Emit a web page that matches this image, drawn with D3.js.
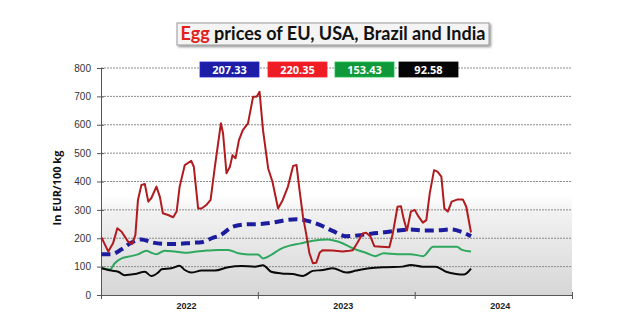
<!DOCTYPE html>
<html>
<head>
<meta charset="utf-8">
<script src="https://cdn.jsdelivr.net/npm/d3@7"></script>
<style>
  body { margin: 0; background: #fff; }
  svg { display: block; }
</style>
</head>
<body>
<svg id="chart" width="642" height="322"></svg>
<script>
// Weekly egg prices, EUR per 100 kg
const euPrices = [
  ["2022-01-02",144],["2022-01-25",144],["2022-02-18",161],["2022-03-12",184],["2022-04-05",196],
  ["2022-04-28",186],["2022-05-29",180],["2022-06-30",180],["2022-07-30",184],["2022-08-23",186],
  ["2022-09-16",200],["2022-10-06",211],["2022-11-04",241],["2022-12-05",249],["2023-01-05",250],
  ["2023-02-04",255],["2023-03-07",264],["2023-04-01",267],["2023-04-24",262],["2023-05-25",247],
  ["2023-06-24",226],["2023-07-26",207],["2023-08-21",210],["2023-09-22",216],["2023-10-23",221],
  ["2023-11-22",227],["2023-12-23",231],["2024-01-24",227],["2024-02-24",228],["2024-03-26",231],
  ["2024-04-18",223],["2024-05-11",207.33]
];
const usaPrices = [
  ["2022-01-02",203],["2022-01-18",153],["2022-01-29",182],["2022-02-08",235],["2022-02-18",223],
  ["2022-03-05",188],["2022-03-14",180],["2022-03-22",211],["2022-03-28",335],["2022-04-05",388],
  ["2022-04-13",391],["2022-04-21",329],["2022-04-28",341],["2022-05-10",382],["2022-05-18",346],
  ["2022-05-25",288],["2022-06-06",282],["2022-06-18",274],["2022-06-26",294],["2022-07-03",382],
  ["2022-07-15",458],["2022-07-30",473],["2022-08-05",452],["2022-08-15",305],["2022-08-23",305],
  ["2022-09-03",317],["2022-09-13",335],["2022-09-23",452],["2022-10-07",605],["2022-10-12",570],
  ["2022-10-20",429],["2022-10-28",452],["2022-11-03",493],["2022-11-10",482],["2022-11-18",546],
  ["2022-11-27",581],["2022-12-09",605],["2022-12-21",699],["2022-12-29",699],["2023-01-05",716],
  ["2023-01-13",581],["2023-01-25",446],["2023-02-04",399],["2023-02-17",305],["2023-02-28",335],
  ["2023-03-12",382],["2023-03-24",455],["2023-04-01",458],["2023-04-08",370],["2023-04-16",276],
  ["2023-04-24",211],["2023-05-01",147],["2023-05-09",112],["2023-05-17",114],["2023-05-25",150],
  ["2023-06-01",158],["2023-06-24",157],["2023-07-17",153],["2023-08-02",156],["2023-08-10",158],
  ["2023-08-21",185],["2023-09-02",217],["2023-09-10",219],["2023-09-20",206],["2023-09-29",172],
  ["2023-10-15",170],["2023-11-03",168],["2023-11-11",217],["2023-11-22",311],["2023-11-30",313],
  ["2023-12-06",270],["2023-12-14",227],["2023-12-23",294],["2024-01-01",300],["2024-01-10",276],
  ["2024-01-20",255],["2024-01-28",264],["2024-02-05",358],["2024-02-15",440],["2024-02-23",435],
  ["2024-03-03",417],["2024-03-10",305],["2024-03-18",294],["2024-03-27",329],["2024-04-10",337],
  ["2024-04-22",337],["2024-04-30",311],["2024-05-11",220.35]
];
const brazilPrices = [
  ["2022-01-02",95],["2022-01-22",90],["2022-02-02",112],["2022-02-18",129],["2022-03-12",137],
  ["2022-03-28",143],["2022-04-17",156],["2022-04-28",149],["2022-05-10",144],["2022-05-29",156],
  ["2022-06-22",153],["2022-07-15",149],["2022-08-07",152],["2022-08-31",156],["2022-10-01",159],
  ["2022-10-24",159],["2022-11-16",147],["2022-12-09",143],["2023-01-01",143],["2023-01-13",129],
  ["2023-02-01",141],["2023-02-21",161],["2023-03-16",174],["2023-04-08",181],["2023-05-09",191],
  ["2023-06-13",196],["2023-07-11",186],["2023-08-11",164],["2023-09-12",147],["2023-10-01",137],
  ["2023-10-21",147],["2023-11-21",144],["2023-12-22",144],["2024-01-21",137],["2024-02-13",170],
  ["2024-03-16",170],["2024-04-08",170],["2024-04-20",159],["2024-05-11",153.43]
];
const indiaPrices = [
  ["2022-01-02",94],["2022-01-25",86],["2022-02-10",82],["2022-02-25",70],["2022-03-21",74],
  ["2022-04-13",82],["2022-04-28",67],["2022-05-14",79],["2022-05-22",91],["2022-06-14",94],
  ["2022-07-03",103],["2022-07-15",88],["2022-07-30",79],["2022-08-23",86],["2022-09-23",86],
  ["2022-10-24",98],["2022-11-24",102],["2022-12-25",100],["2023-01-13",105],["2023-02-01",82],
  ["2023-02-25",76],["2023-03-23",74],["2023-04-16",67],["2023-05-09",85],["2023-06-01",88],
  ["2023-06-24",94],["2023-07-26",79],["2023-08-18",86],["2023-09-18",94],["2023-10-27",98],
  ["2023-12-04",100],["2023-12-23",106],["2024-01-19",100],["2024-02-19",100],["2024-03-14",82],
  ["2024-04-06",74],["2024-04-25",72],["2024-05-11",92.58]
];

const yTicks = [0, 100, 200, 300, 400, 500, 600, 700, 800];
const yearTicks = ["2022-01-01", "2023-01-01", "2024-01-01", "2025-01-01"];
const yearLabels = ["2022", "2023", "2024"];
const titleAccent = "Egg";
const titleRest = " prices of EU, USA, Brazil and India";
const yTitle = "In EUR/100 kg";

const parse = d3.timeParse("%Y-%m-%d");
const toPoints = arr => arr.map(([d, v]) => ({ date: parse(d), value: v }));

const series = [
  { key: "eu",     data: toPoints(euPrices),     color: "#1c1c9e", box: "#1d1da6", width: 4, dash: "9,5", curve: d3.curveMonotoneX },
  { key: "usa",    data: toPoints(usaPrices),    color: "#b01b1f", box: "#ee1c24", width: 2, dash: null,  curve: d3.curveLinear },
  { key: "brazil", data: toPoints(brazilPrices), color: "#2ea85e", box: "#10993a", width: 2, dash: null,  curve: d3.curveMonotoneX },
  { key: "india",  data: toPoints(indiaPrices),  color: "#0a0a0a", box: "#050505", width: 2, dash: null,  curve: d3.curveMonotoneX }
];

const svg = d3.select("#chart");
const plot = { left: 101, right: 572, top: 68, bottom: 295 };

const x = d3.scaleTime()
  .domain([parse(yearTicks[0]), parse(yearTicks[yearTicks.length - 1])])
  .range([plot.left, plot.right]);
const y = d3.scaleLinear().domain([0, 800]).range([plot.bottom, plot.top]);

// Plot background: white fading into light grey at the bottom
const defs = svg.append("defs");
const grad = defs.append("linearGradient").attr("id", "bg").attr("x1", 0).attr("y1", 0).attr("x2", 0).attr("y2", 1);
[["0%", "#ffffff"], ["56%", "#ffffff"], ["64%", "#f1f1f1"], ["100%", "#d6d6d6"]]
  .forEach(([o, c]) => grad.append("stop").attr("offset", o).attr("stop-color", c));

const shadow = defs.append("filter").attr("id", "shadow").attr("x", "-10%").attr("y", "-30%").attr("width", "120%").attr("height", "170%");
shadow.append("feDropShadow").attr("dx", 1.5).attr("dy", 1.5).attr("stdDeviation", 1.2).attr("flood-color", "#000").attr("flood-opacity", 0.45);

svg.append("rect")
  .attr("x", plot.left).attr("y", plot.top)
  .attr("width", plot.right - plot.left).attr("height", plot.bottom - plot.top)
  .attr("fill", "url(#bg)");

// Horizontal gridlines
svg.append("g").selectAll("line")
  .data(yTicks.filter(t => t > 0))
  .join("line")
  .attr("x1", plot.left).attr("x2", plot.right)
  .attr("y1", d => y(d)).attr("y2", d => y(d))
  .attr("stroke", "#8c8c8c").attr("stroke-width", 1)
  .attr("stroke-dasharray", "2,1");

// Y axis
const yAxis = svg.append("g")
  .attr("transform", `translate(${plot.left},0)`)
  .call(d3.axisLeft(y).tickValues(yTicks).tickSize(4).tickPadding(6));
yAxis.select(".domain").attr("stroke", "#555");
yAxis.selectAll(".tick line").attr("x1", 3).attr("x2", -4).attr("stroke", "#555");
yAxis.selectAll(".tick text")
  .attr("font-family", "Liberation Sans, Arial, sans-serif")
  .attr("font-size", 10).attr("fill", "#333");

// X axis
const xAxis = svg.append("g")
  .attr("transform", `translate(0,${plot.bottom})`)
  .call(d3.axisBottom(x).tickValues(yearTicks.map(parse)).tickSize(4).tickFormat(""));
xAxis.select(".domain").attr("stroke", "#555");
xAxis.selectAll(".tick line").attr("y1", -3).attr("y2", 4).attr("stroke", "#555");

svg.append("g").selectAll("text")
  .data(yearLabels)
  .join("text")
  .attr("x", (d, i) => (x(parse(yearTicks[i])) + x(parse(yearTicks[i + 1]))) / 2 + 7)
  .attr("y", 309)
  .attr("text-anchor", "middle")
  .attr("font-family", "Liberation Sans, Arial, sans-serif")
  .attr("font-weight", "bold").attr("font-size", 9).attr("fill", "#222")
  .text(d => d);

// Y axis title
svg.append("text")
  .attr("transform", "translate(61,188) rotate(-90)")
  .attr("text-anchor", "middle")
  .attr("font-family", "Open Sans, sans-serif")
  .attr("font-weight", "bold").attr("font-size", 11).attr("fill", "#111")
  .text(yTitle);

// Series lines
const lines = svg.append("g");
series.forEach(s => {
  const line = d3.line().x(d => x(d.date)).y(d => y(d.value)).curve(s.curve);
  lines.append("path")
    .datum(s.data)
    .attr("fill", "none")
    .attr("stroke", s.color)
    .attr("stroke-width", s.width)
    .attr("stroke-linejoin", "round")
    .attr("stroke-dasharray", s.dash)
    .attr("d", line);
});
// red line sits above the dashed blue one
lines.selectAll("path").filter((d, i) => i === 1).raise();

// Legend boxes showing the latest value of each series
const legendX = [200, 268, 335, 399];
const legend = svg.append("g");
series.forEach((s, i) => {
  const last = s.data[s.data.length - 1].value;
  const g = legend.append("g").attr("transform", `translate(${legendX[i]},62)`);
  g.append("rect").attr("width", 59).attr("height", 15).attr("fill", s.box)
    .attr("stroke", d3.color(s.box).brighter(0.6)).attr("stroke-width", 0.8);
  g.append("text").attr("x", 29.5).attr("y", 11.5).attr("text-anchor", "middle")
    .attr("font-family", "Open Sans, sans-serif").attr("font-weight", "bold")
    .attr("font-size", 11).attr("fill", "#fff")
    .text(d3.format(".2f")(last));
});

// Title in a shadowed box
const titleBox = { x: 177, y: 23, w: 312, h: 22 };
svg.append("rect")
  .attr("x", titleBox.x).attr("y", titleBox.y).attr("width", titleBox.w).attr("height", titleBox.h)
  .attr("fill", "#f4f4f4").attr("stroke", "#9a9a9a").attr("stroke-width", 1)
  .attr("filter", "url(#shadow)");
const title = svg.append("text")
  .attr("x", titleBox.x + titleBox.w / 2).attr("y", 40)
  .attr("text-anchor", "middle")
  .attr("font-family", "Lato, sans-serif").attr("font-weight", "bold")
  .attr("font-size", 17);
title.append("tspan").attr("fill", "#e0211c").text(titleAccent);
title.append("tspan").attr("fill", "#111").text(titleRest);
const tw = title.node().getComputedTextLength();
title.attr("font-size", 17 * 305 / tw);
</script>
</body>
</html>
